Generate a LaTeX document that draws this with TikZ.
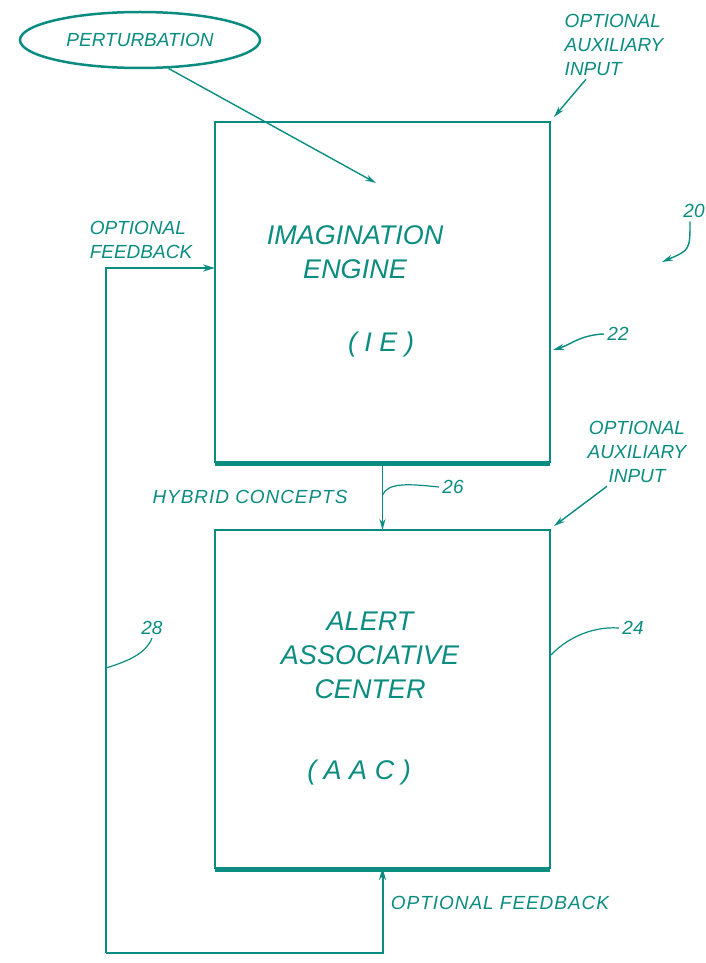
\documentclass[tikz,border=0pt]{standalone}
\usepackage{fontspec}
\setmainfont{Liberation Sans}
\usepackage{tikz}
\usetikzlibrary{shapes.geometric, arrows.meta, positioning, calc}
\definecolor{PatentTeal}{RGB}{10,140,128}

\begin{document}
\begin{tikzpicture}[
    x=1pt, y=-1pt,
    every node/.style={text=PatentTeal},
    box/.style={rectangle, draw=PatentTeal, line width=2.5pt, outer sep=0pt,
                minimum width=335pt, minimum height=340pt, inner sep=0pt},
    bigtext/.style={font=\itshape\fontsize{27}{34}\selectfont, align=center},
    smalltext/.style={font=\itshape\fontsize{19}{24}\selectfont},
    widetext/.style={font=\itshape\fontsize{19}{24}\selectfont\addfontfeature{LetterSpace=5.0}},
    arrow/.style={-{Stealth[length=11pt,width=6pt]}, line width=1.4pt, PatentTeal},
    feedback/.style={-{Stealth[length=12pt,width=7pt]}, line width=2pt, PatentTeal},
    leader/.style={line width=1.2pt, PatentTeal}
]
\useasboundingbox (0,0) rectangle (706,963);

% Blocks
\node[box] (ie) at (382.5,292) {};
\node[box, minimum height=338pt, below=68pt of ie] (aac) {};
\draw[line width=5pt, PatentTeal] ([yshift=-1.5pt]ie.south west) -- ([yshift=-1.5pt]ie.south east);
\draw[line width=5pt, PatentTeal] ([yshift=-1.5pt]aac.south west) -- ([yshift=-1.5pt]aac.south east);

\node[bigtext] (ietitle) at (355,252) {IMAGINATION\\ENGINE};
\node[bigtext] (ieabbr) at (381,345) {( I E )};
\node[bigtext] (aactitle) at (370,655) {ALERT\\ASSOCIATIVE\\CENTER};
\node[bigtext] (aacabbr) at (359,773) {( A A C )};

% Perturbation input
\node[ellipse, draw=PatentTeal, line width=2.5pt, minimum width=240pt, minimum height=56pt,
      font=\itshape\fontsize{19}{24}\selectfont] (pert) at (140,40) {PERTURBATION};
\coordinate (pertend) at (376,183);
\draw[arrow] (pert.-45) -- (pertend);

% Auxiliary inputs
\node[smalltext, align=left] (aux1) at (614,45) {OPTIONAL\\AUXILIARY\\INPUT};
\draw[arrow] ([xshift=-28pt]aux1.south) -- ([shift={(4pt,5pt)}]ie.north east);
\node[smalltext, align=center] (aux2) at (637,452) {OPTIONAL\\AUXILIARY\\INPUT};
\draw[arrow] ([xshift=-30pt]aux2.south) -- ([shift={(4pt,4pt)}]aac.north east);

% Hybrid concepts
\draw[arrow] (ie.south) -- (aac.north);
\node[widetext] (hybrid) at (250,497) {HYBRID CONCEPTS};

% Feedback loop
\coordinate (fbtop) at (106,268);
\coordinate (fbbot) at (106,953);
\draw[feedback] (fbbot) -- (fbtop) -- (fbtop -| ie.west);
\draw[feedback] (fbbot) -| (aac.south);
\node[smalltext, align=left] (fbtoplbl) at (141,240) {OPTIONAL\\FEEDBACK};
\node[widetext] (fbbotlbl) at (500,903) {OPTIONAL FEEDBACK};

% Reference numerals
\node[smalltext] (fig) at (694,211) {20};
\coordinate (figtip) at (662,262);
\draw[arrow] ([xshift=-4pt]fig.south) .. controls (690,250) .. (figtip);
\node[smalltext] (n22) at (618,334) {22};
\draw[arrow] (n22.west) .. controls (580,335) and (570,345) .. ([xshift=3pt,yshift=-58pt]ie.east);
\node[smalltext] (n26) at (453,487) {26};
\draw[leader] (n26.west) .. controls (410,484) and (388,482) .. ([yshift=-33pt]ie.south);
\node[smalltext] (n24) at (633,628) {24};
\draw[leader] (n24.west) .. controls (590,626) and (565,640) .. ([xshift=1pt,yshift=44pt]aac.east);
\node[smalltext] (n28) at (152,628) {28};
\draw[leader] (n28.south) .. controls (145,655) and (125,662) .. ([yshift=-400pt]fbtop);

\end{tikzpicture}
\end{document}
